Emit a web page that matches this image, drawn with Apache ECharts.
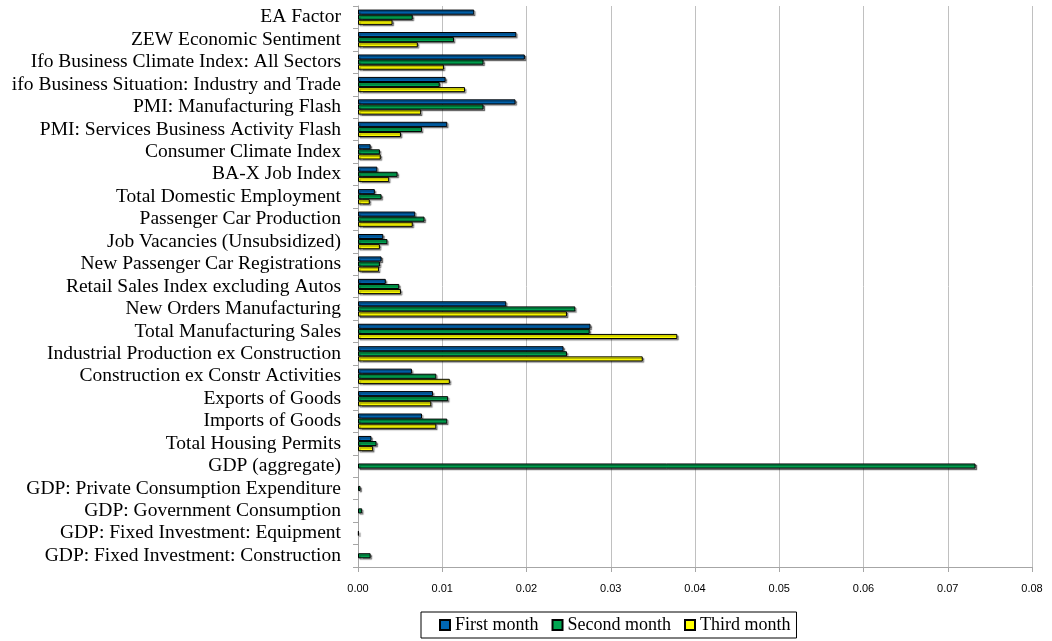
<!DOCTYPE html>
<html>
<head>
<meta charset="utf-8">
<script src="https://cdn.jsdelivr.net/npm/echarts@6/dist/echarts.min.js"></script>
<style>
  html, body { margin: 0; padding: 0; background: #fff; }
  #chart { width: 1052px; height: 641px; }
</style>
</head>
<body>
<div id="chart"></div>
<script>
const categories = [
  'EA Factor',
  'ZEW Economic Sentiment',
  'Ifo Business Climate Index: All Sectors',
  'ifo Business Situation: Industry and Trade',
  'PMI: Manufacturing Flash',
  'PMI: Services Business Activity Flash',
  'Consumer Climate Index',
  'BA-X Job Index',
  'Total Domestic Employment',
  'Passenger Car Production',
  'Job Vacancies (Unsubsidized)',
  'New Passenger Car Registrations',
  'Retail Sales Index excluding Autos',
  'New Orders Manufacturing',
  'Total Manufacturing Sales',
  'Industrial Production ex Construction',
  'Construction ex Constr Activities',
  'Exports of Goods',
  'Imports of Goods',
  'Total Housing Permits',
  'GDP (aggregate)',
  'GDP: Private Consumption Expenditure',
  'GDP: Government Consumption',
  'GDP: Fixed Investment: Equipment',
  'GDP: Fixed Investment: Construction'
];

const firstMonth = [
  0.0138, 0.0188, 0.0198, 0.0104, 0.0187, 0.0106, 0.0015, 0.0023, 0.0020,
  0.0068, 0.0030, 0.0028, 0.0033, 0.0176, 0.0276, 0.0244, 0.0064, 0.0089,
  0.0076, 0.0016, null, null, null, null, null
];
const secondMonth = [
  0.0065, 0.0114, 0.0149, 0.0097, 0.0149, 0.0076, 0.0026, 0.0047, 0.0028,
  0.0079, 0.0035, 0.0026, 0.0049, 0.0258, 0.0275, 0.0248, 0.0093, 0.0107,
  0.0106, 0.0022, 0.0733, 0.0003, 0.0005, 0.0001, 0.0015
];
const thirdMonth = [
  0.0041, 0.0071, 0.0102, 0.0127, 0.0075, 0.0051, 0.0027, 0.0037, 0.0014,
  0.0065, 0.0026, 0.0025, 0.0051, 0.0248, 0.0379, 0.0338, 0.0109, 0.0087,
  0.0093, 0.0018, null, null, null, null, null
];

const seriesNames = ['First month', 'Second month', 'Third month'];
const colors = ['#0066b3', '#00a651', '#ffff00'];

const serif = '"Liberation Serif", "Times New Roman", serif';

const chart = echarts.init(document.getElementById('chart'));

function makeSeries(name, data, color) {
  return {
    name: name,
    type: 'bar',
    data: data,
    barGap: '0%',
    barCategoryGap: '32%',
    itemStyle: {
      color: color,
      borderColor: '#000',
      borderWidth: 1,
      shadowColor: 'rgba(0,0,0,0.4)',
      shadowBlur: 1,
      shadowOffsetX: 1.5,
      shadowOffsetY: 1.5
    },
    emphasis: { disabled: true }
  };
}

chart.setOption({
  animation: false,
  backgroundColor: '#fff',
  grid: {
    left: 358,
    right: 20,
    top: 6,
    bottom: 74,
    containLabel: false,
    outerBoundsMode: 'none'
  },
  legend: {
    data: seriesNames,
    left: 421,
    top: 612,
    orient: 'horizontal',
    icon: 'rect',
    itemWidth: 10,
    itemHeight: 10,
    itemGap: 13,
    padding: [4, 6, 4, 18],
    borderColor: '#000',
    borderWidth: 1,
    textStyle: { fontFamily: serif, fontSize: 18, color: '#000' }
  },
  xAxis: {
    type: 'value',
    min: 0,
    max: 0.08,
    interval: 0.01,
    axisLine: { show: true, lineStyle: { color: '#a6a6a6' } },
    axisTick: { show: true, length: 5, lineStyle: { color: '#a6a6a6' } },
    splitLine: { show: true, lineStyle: { color: '#c0c0c0', width: 1 } },
    axisLabel: {
      margin: 16,
      color: '#000',
      fontFamily: '"Liberation Sans", Arial, sans-serif',
      fontSize: 11,
      formatter: v => v.toFixed(2)
    }
  },
  yAxis: {
    type: 'category',
    data: categories,
    inverse: true,
    axisLine: { show: true, lineStyle: { color: '#a6a6a6' } },
    axisTick: { show: true, length: 5, alignWithLabel: false, lineStyle: { color: '#a6a6a6' } },
    splitLine: { show: false },
    axisLabel: {
      margin: 17,
      color: '#000',
      fontFamily: serif,
      fontSize: 19.5,
      interval: 0
    }
  },
  series: [
    makeSeries(seriesNames[0], firstMonth, colors[0]),
    makeSeries(seriesNames[1], secondMonth, colors[1]),
    makeSeries(seriesNames[2], thirdMonth, colors[2])
  ]
});
</script>
</body>
</html>
